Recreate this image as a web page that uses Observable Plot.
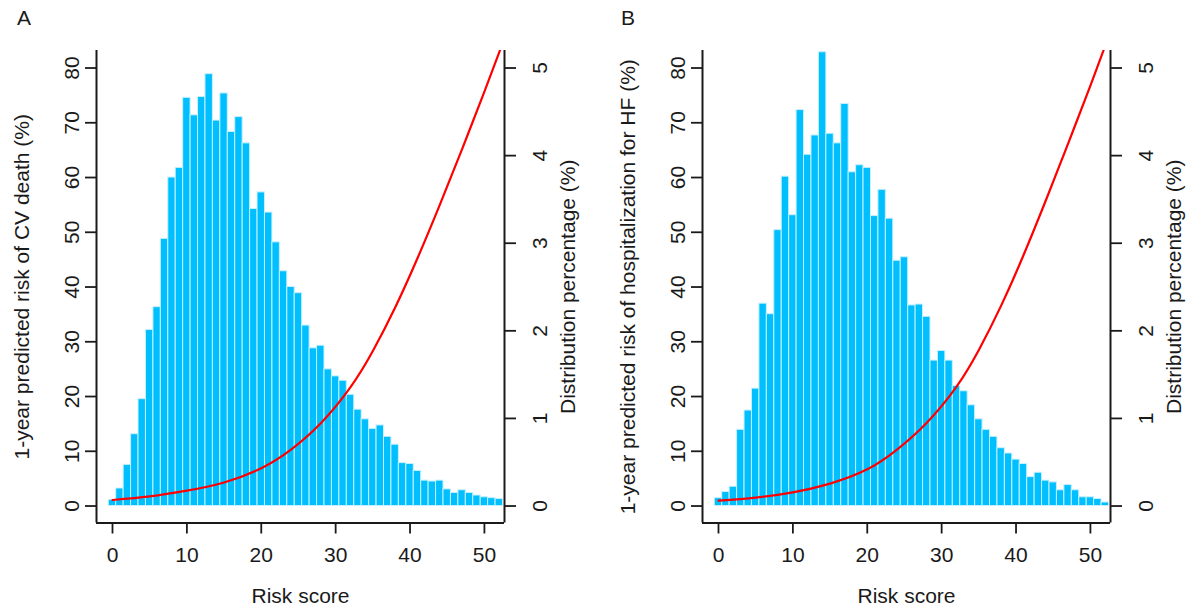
<!DOCTYPE html>
<html><head><meta charset="utf-8">
<script src="https://cdn.jsdelivr.net/npm/d3@7"></script>
<script src="https://cdn.jsdelivr.net/npm/@observablehq/plot@0.6"></script>
<style>
body{margin:0;background:#fff;overflow:hidden;}
#wrap{position:relative;width:1191px;height:615px;font-family:"Liberation Sans",Arial,sans-serif;color:#1a1a1a;}
.panel{position:absolute;top:0;}
.tag{position:absolute;top:7px;font-size:21px;line-height:21px;}
</style></head><body><div id="wrap"></div>
<script>
// Risk score bins (bar centres)
const scores = [0,1,2,3,4,5,6,7,8,9,10,11,12,13,14,15,16,17,18,19,20,21,22,23,24,25,26,27,28,29,30,31,32,33,34,35,36,37,38,39,40,41,42,43,44,45,46,47,48,49,50,51,52];
// Distribution percentage (%) per score, panel A (CV death) and panel B (HF hospitalization)
const distA = [0.07,0.20,0.47,0.82,1.22,2.01,2.27,3.05,3.75,3.86,4.66,4.46,4.67,4.93,4.40,4.71,4.27,4.44,4.14,3.39,3.58,3.35,3.01,2.68,2.50,2.43,2.06,1.80,1.83,1.56,1.48,1.43,1.27,1.10,0.99,0.88,0.92,0.79,0.70,0.49,0.48,0.40,0.29,0.28,0.29,0.19,0.15,0.18,0.15,0.12,0.10,0.09,0.08];
const distB = [0.09,0.16,0.22,0.87,1.09,1.34,2.31,2.19,3.15,3.76,3.32,4.52,4.01,4.23,5.18,4.25,4.14,4.59,3.81,3.89,3.86,3.31,3.61,3.28,2.80,2.84,2.29,2.30,2.16,1.66,1.77,1.66,1.37,1.31,1.15,0.99,0.87,0.79,0.66,0.60,0.53,0.48,0.33,0.38,0.29,0.27,0.18,0.24,0.18,0.10,0.10,0.08,0.04];
// 1-year predicted risk (%)
const curveScores = [0,5,10,15,20,24,28,32,35,38,41,44,47,50,52,53];
const riskA = [1.1,1.75,2.8,4.3,6.9,10.3,15.1,21.7,28.3,36.25,45.25,55.0,65.2,75.7,82.9,86.5];
const riskB = [1.0,1.55,2.5,4.1,6.7,10.3,15.2,21.8,28.5,36.6,45.8,55.8,66.2,76.8,84.1,87.8];
// Tick labels
const xTicks = [0,10,20,30,40,50];
const leftTicks = [0,10,20,30,40,50,60,70,80];
const rightTicks = [0,1,2,3,4,5];
const ratio = leftTicks[leftTicks.length-1] / rightTicks[rightTicks.length-1]; // 80% risk <-> 5% distribution
const xDomain = [-2.15, 52.7];
const yDomain = [-3.1, 83.2];
const xTitle = "Risk score";
const rightTitle = "Distribution percentage (%)";

function panel(dist, risk, yTitle, width, marginRight) {
  const bars = scores.map((s, i) => ({s, pct: dist[i]}));
  const curve = curveScores.map((s, i) => ({s, r: risk[i]}));
  return Plot.plot({
    width, height: 615,
    marginLeft: 96, marginRight, marginTop: 50, marginBottom: 92.5,
    x: {domain: xDomain, label: null},
    y: {domain: yDomain, label: null},
    style: {fontFamily: '"Liberation Sans", Arial, sans-serif', fontSize: "21px", color: "#1a1a1a", background: "transparent", overflow: "visible"},
    marks: [
      Plot.rect(bars, {x1: d => d.s - 0.5, x2: d => d.s + 0.5, y1: 0, y2: d => d.pct * ratio, fill: "#00BFFF", stroke: "#c8f0ff", strokeWidth: 1}),
      Plot.line(curve, {x: "s", y: "r", stroke: "#ff0000", strokeWidth: 2.2, curve: "natural", clip: true}),
      Plot.ruleX(xDomain, {stroke: "#1a1a1a", strokeWidth: 2}),
      Plot.ruleY([yDomain[0]], {stroke: "#1a1a1a", strokeWidth: 2}),
      Plot.axisY(leftTicks, {anchor: "left", tickSize: 11, tickRotate: -90, tickPadding: 7, strokeWidth: 1.8, label: null}),
      Plot.axisY(rightTicks.map(t => t * ratio), {anchor: "right", tickSize: 11, tickRotate: -90, lineAnchor: "top", tickPadding: 17, tickFormat: d => d / ratio, strokeWidth: 1.8, label: null}),
      Plot.axisX(xTicks, {anchor: "bottom", tickSize: 11, tickPadding: 13, strokeWidth: 1.8, label: null}),
      Plot.text([yTitle], {text: d => d, frameAnchor: "left", textAnchor: "middle", lineAnchor: "middle", rotate: -90, dx: -74, fontSize: 21}),
      Plot.text([rightTitle], {text: d => d, frameAnchor: "right", textAnchor: "middle", lineAnchor: "middle", rotate: -90, dx: 64, fontSize: 21}),
      Plot.text([xTitle], {text: d => d, frameAnchor: "bottom", textAnchor: "middle", dy: 80, lineAnchor: "bottom", fontSize: 21})
    ]
  });
}

const wrap = document.getElementById("wrap");
const a = panel(distA, riskA, "1-year predicted risk of CV death (%)", 600, 96);
a.classList.add("panel"); a.style.left = "0px";
const b = panel(distB, riskB, "1-year predicted risk of hospitalization for HF (%)", 585, 81);
b.classList.add("panel"); b.style.left = "606px";
wrap.appendChild(a); wrap.appendChild(b);
const tA = document.createElement("div"); tA.className = "tag"; tA.style.left = "17px"; tA.textContent = "A";
const tB = document.createElement("div"); tB.className = "tag"; tB.style.left = "621px"; tB.textContent = "B";
wrap.appendChild(tA); wrap.appendChild(tB);
</script>
</body></html>
